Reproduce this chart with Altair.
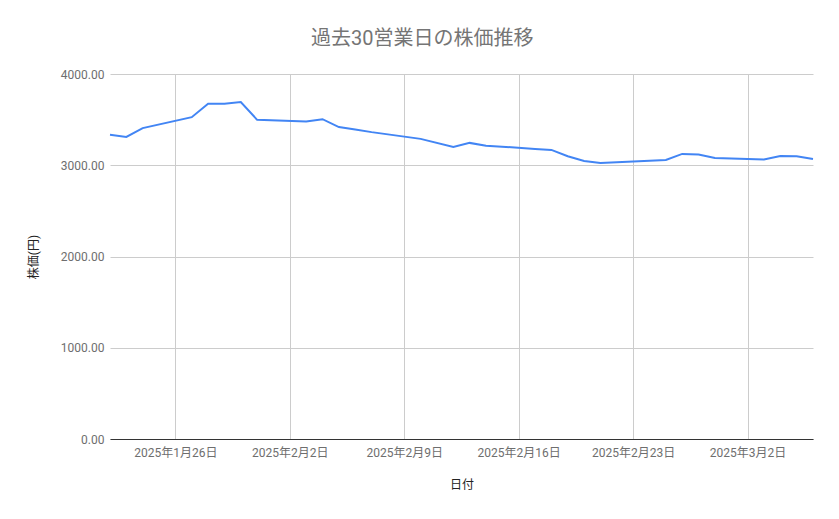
import altair as alt
import pandas as pd

dates = ["2025-01-22", "2025-01-23", "2025-01-24", "2025-01-27", "2025-01-28",
         "2025-01-29", "2025-01-30", "2025-01-31", "2025-02-03", "2025-02-04",
         "2025-02-05", "2025-02-06", "2025-02-07", "2025-02-10", "2025-02-12",
         "2025-02-13", "2025-02-14", "2025-02-17", "2025-02-18", "2025-02-19",
         "2025-02-20", "2025-02-21", "2025-02-25", "2025-02-26", "2025-02-27",
         "2025-02-28", "2025-03-03", "2025-03-04", "2025-03-05", "2025-03-06"]
prices = [3333, 3311, 3407, 3527, 3674, 3674, 3692, 3498, 3480, 3505,
          3418, 3392, 3363, 3289, 3201, 3245, 3215, 3179, 3168, 3099,
          3047, 3026, 3058, 3124, 3117, 3080, 3062, 3102, 3099, 3069]
y_ticks = [0, 1000, 2000, 3000, 4000]
x_ticks = [(2025, 1, 26), (2025, 2, 2), (2025, 2, 9), (2025, 2, 16), (2025, 2, 23), (2025, 3, 2)]

df = pd.DataFrame({"日付": dates, "株価": prices})

FONT = "Roboto, 'Noto Sans CJK JP', sans-serif"

chart = alt.Chart(df).mark_line(color="#4285F4", strokeWidth=2).encode(
    x=alt.X("日付:T",
            scale=alt.Scale(type="utc", nice=False),
            axis=alt.Axis(
                title="日付",
                values=[alt.DateTime(year=y, month=m, date=d, utc=True) for y, m, d in x_ticks],
                format="%Y年%-m月%-d日",
                labelAngle=0,
                ticks=False,
                labelPadding=8,
                titlePadding=21,
                grid=True,
                gridColor="#cccccc",
                domainColor="#333333",
                domainWidth=1,
            )),
    y=alt.Y("株価:Q",
            scale=alt.Scale(domain=[0, 4000], nice=False),
            axis=alt.Axis(
                title="株価(円)",
                values=y_ticks,
                format=".2f",
                ticks=False,
                domain=False,
                labelPadding=6,
                titlePadding=20,
                gridColor="#cccccc",
            )),
).properties(
    width=703,
    height=365,
    title=alt.TitleParams("過去30営業日の株価推移", fontSize=20, color="#757575",
                          font=FONT, fontWeight="normal", anchor="middle",
                          frame="bounds", offset=19),
    autosize=alt.AutoSizeParams(type="none"),
    padding={"left": 102, "top": 66, "right": 12, "bottom": 56},
).configure_axis(
    labelFont=FONT, titleFont=FONT,
    labelFontSize=12, labelColor="#6e6e6e",
    titleFontSize=12, titleColor="#222222", titleFontWeight="normal",
).configure_view(stroke=None)

chart.save("out.html", embed_options={"renderer": "svg", "actions": False})
